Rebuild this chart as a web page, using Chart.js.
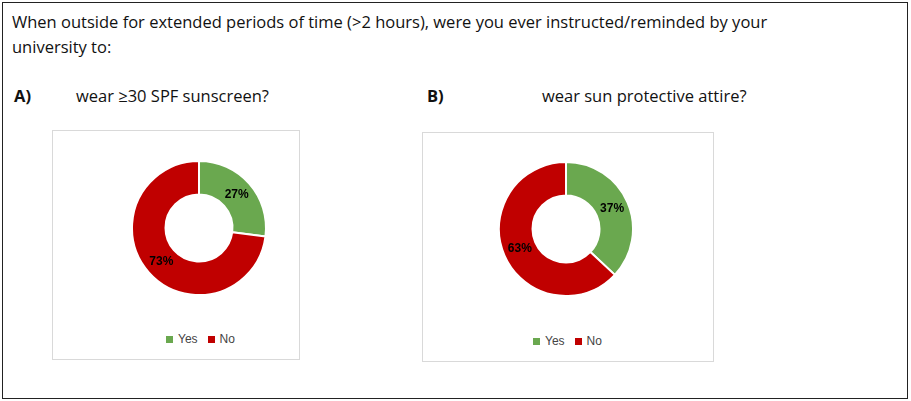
<!DOCTYPE html>
<html lang="en">
<head>
<meta charset="UTF-8">
<title>Sun protection survey</title>
<script src="https://cdn.jsdelivr.net/npm/chart.js"></script>
<style>
  body { margin: 0; width: 911px; height: 401px; font-family: "Open Sans", "Noto Sans", sans-serif; background: #fff; }
  .frame { position: absolute; left: 2px; top: 2px; width: 904px; height: 395px; border: 1px solid #222; }
  .q { position: absolute; left: 12px; top: 9px; font-size: 16.5px; color: #111; line-height: 25px; width: 800px; }
  .lab { position: absolute; font-size: 16.5px; font-weight: bold; color: #111; }
  .sub { position: absolute; font-size: 16.5px; color: #111; }
  .box { position: absolute; border: 1px solid #d9d9d9; }
  .pie { position: absolute; width: 140px; height: 140px; }
  .legend { position: absolute; font-size: 12px; color: #444; font-family: "Liberation Sans", Arial, sans-serif; }
  .legend span.sw { display: inline-block; width: 7px; height: 7px; margin-right: 5px; }
  .legend span.item { margin-right: 10px; }
</style>
</head>
<body>
<div class="frame"></div>
<div class="q">When outside for extended periods of time (&gt;2 hours), were you ever instructed/reminded by your university to:</div>
<div class="lab" style="left:14px;top:84px">A)</div>
<div class="sub" style="left:76px;top:84px">wear ≥30 SPF sunscreen?</div>
<div class="lab" style="left:427px;top:84px">B)</div>
<div class="sub" style="left:542px;top:84px">wear sun protective attire?</div>

<div class="box" style="left:52px;top:130px;width:246px;height:228px"></div>
<div class="box" style="left:422px;top:132px;width:290px;height:228px"></div>

<div class="pie" style="left:129px;top:158px"><canvas id="chartA"></canvas></div>
<div class="pie" style="left:496px;top:159px"><canvas id="chartB"></canvas></div>

<div class="legend" id="legendA" style="left:166px;top:332px"></div>
<div class="legend" id="legendB" style="left:533px;top:334px"></div>

<script>
const categories = ["Yes", "No"];
const sunscreenPct = [27, 73];
const attirePct = [37, 63];
const sliceColors = ["#6aa84f", "#c00000"];

// draw percentage labels in the middle of each ring segment
const ringLabels = {
  id: "ringLabels",
  afterDatasetsDraw(chart) {
    const ctx = chart.ctx;
    const meta = chart.getDatasetMeta(0);
    ctx.save();
    ctx.font = "bold 12px 'Liberation Sans', Arial, sans-serif";
    ctx.fillStyle = "#000";
    ctx.textAlign = "center";
    ctx.textBaseline = "middle";
    meta.data.forEach((arc, i) => {
      const p = arc.tooltipPosition();
      ctx.fillText(chart.data.datasets[0].data[i] + "%", p.x, p.y);
    });
    ctx.restore();
  }
};

function makeDonut(id, values) {
  new Chart(document.getElementById(id), {
    type: "doughnut",
    data: {
      labels: categories,
      datasets: [{ data: values, backgroundColor: sliceColors, borderColor: "#fff", borderWidth: 2 }]
    },
    options: {
      responsive: false,
      animation: false,
      cutout: "50%",
      layout: { padding: 2 },
      plugins: { legend: { display: false }, tooltip: { enabled: false } }
    },
    plugins: [ringLabels]
  });
}

function makeLegend(id) {
  document.getElementById(id).innerHTML = categories.map((c, i) =>
    `<span class="item"><span class="sw" style="background:${sliceColors[i]}"></span>${c}</span>`).join("");
}

document.getElementById("chartA").width = 140;
document.getElementById("chartA").height = 140;
document.getElementById("chartB").width = 140;
document.getElementById("chartB").height = 140;
makeDonut("chartA", sunscreenPct);
makeDonut("chartB", attirePct);
makeLegend("legendA");
makeLegend("legendB");
</script>
</body>
</html>
